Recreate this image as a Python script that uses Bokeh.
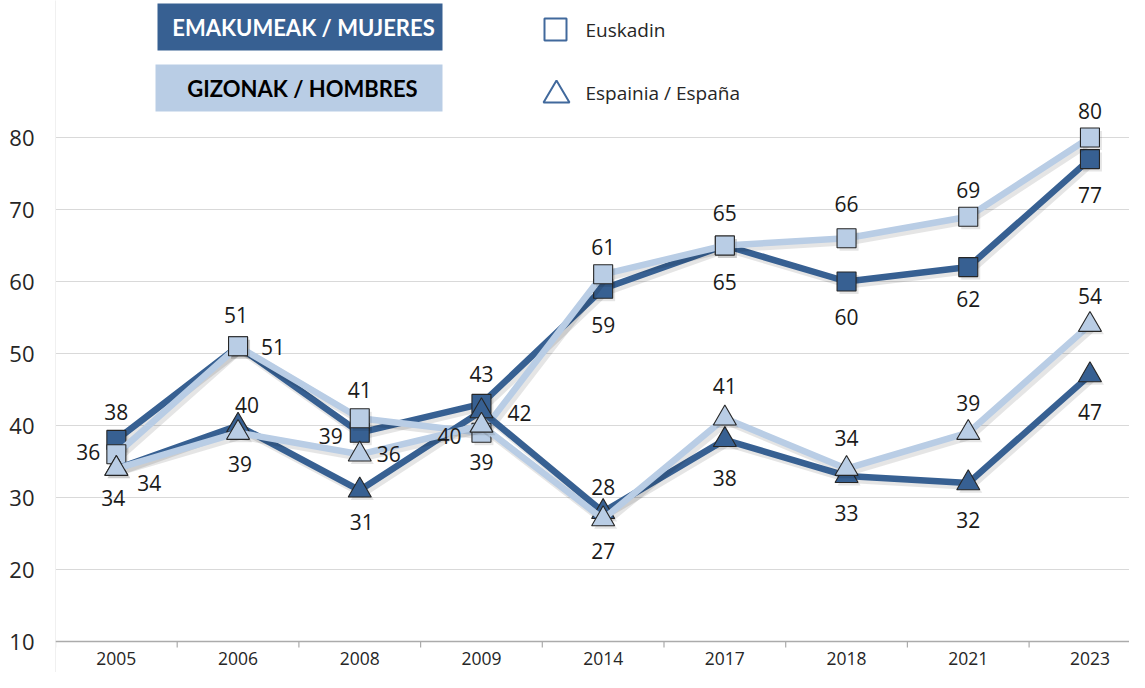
from bokeh.plotting import figure
from bokeh.models import (Range1d, FixedTicker, Span, BoxAnnotation, PolyAnnotation,
                          Label, ColumnDataSource)
from bokeh.core.properties import value
from bokeh.embed import file_html
from bokeh.resources import INLINE
import math

# ---------------- data ----------------
years = ["2005", "2006", "2008", "2009", "2014", "2017", "2018", "2021", "2023"]
euskadi_women = [38, 51, 39, 43, 59, 65, 60, 62, 77]
euskadi_men = [36, 51, 41, 39, 61, 65, 66, 69, 80]
spain_women = [34, 40, 31, 42, 28, 38, 33, 32, 47]
spain_men = [34, 39, 36, 40, 27, 41, 34, 39, 54]
y_ticks = [10, 20, 30, 40, 50, 60, 70, 80]

# label offsets in pixels (dx, dy) for each point
off_ew = [(0, -28), (35, 1), (-29, 3), (0, -30), (0, 36), (0, 36), (0, 35), (0, 32), (0, 36)]
off_em = [(-28, -2), (-2, -31), (0, -28), (0, 29), (0, -27), (0, -33), (0, -34), (0, -27), (0, -27)]
off_sw = [(-3, 29), (9, -21), (2, 32), (38, 2), (0, -25), (0, 38), (0, 37), (0, 37), (0, 37)]
off_sm = [(33, 14), (2, 31), (29, 0), (-32, 10), (0, 32), (0, -32), (0, -31), (0, -30), (0, -29)]

# ---------------- layout ----------------
W, H = 1129, 672
LEFT = 55
PX_X = 121.7          # px per category
AXIS_Y_PX = 641       # pixel row (from top) of the value-10 axis
TOP80_PX = 137        # pixel row of value 80
PX_Y = (AXIS_Y_PX - TOP80_PX) / 70.0
DARK = "#376092"
LIGHT = "#B9CDE5"
TXT = "#262626"
FONT = "Open Sans"
LEG_FONT = "Lato"

idx = list(range(len(years)))
y0 = y_ticks[0]

p = figure(width=W, height=H, output_backend="svg", toolbar_location=None,
           x_range=Range1d(-0.5, -0.5 + (W - LEFT) / PX_X),
           y_range=Range1d(y0 - (H - AXIS_Y_PX) / PX_Y, y0 + AXIS_Y_PX / PX_Y),
           x_axis_location=None, min_border_left=LEFT, min_border_right=0,
           min_border_top=0, min_border_bottom=0)
p.outline_line_color = None
p.background_fill_color = "white"
p.border_fill_color = "white"
p.xgrid.visible = False
p.ygrid.ticker = FixedTicker(ticks=y_ticks)
p.ygrid.grid_line_color = "#D9D9D9"
p.ygrid.grid_line_width = 1

ya = p.yaxis[0]
ya.ticker = FixedTicker(ticks=y_ticks)
ya.axis_line_color = "#F0F0F0"
ya.major_tick_line_color = None
ya.minor_tick_line_color = None
ya.major_tick_out = 0
ya.major_tick_in = 0
ya.major_label_standoff = 21
ya.major_label_text_font = FONT
ya.major_label_text_font_size = "22px"
ya.major_label_text_color = TXT

# x axis line and category boundary ticks
p.add_layout(Span(location=y0, dimension="width", line_color="#ABABAB", line_width=1.5))
bounds = [i - 0.5 for i in range(len(years) + 1)]
p.ray(x=bounds, y=[y0] * len(bounds), length=6, length_units="screen",
      angle=-math.pi / 2, line_color="#ABABAB", line_width=1.2)
p.text(x=idx, y=[y0] * len(idx), text=years, x_offset=0, y_offset=17,
       text_font=value(FONT), text_font_size="17.5px", text_color=TXT,
       text_align="center", text_baseline="middle")

series = [
    (euskadi_women, DARK, "square", 19, off_ew),
    (euskadi_men, LIGHT, "square", 19, off_em),
    (spain_women, DARK, "triangle", 23, off_sw),
    (spain_men, LIGHT, "triangle", 23, off_sm),
]
SH_DX = 2.5 / PX_X
SH_DY = -3.0 / PX_Y
label_sources = []
for vals, col, mk, sz, offs in series:
    src = ColumnDataSource(dict(x=idx, y=vals, t=[str(v) for v in vals],
                                dx=[o[0] for o in offs], dy=[o[1] for o in offs],
                                xs=[i + SH_DX for i in idx], ys=[v + SH_DY for v in vals]))
    # soft shadow like the original's line effect
    p.line("xs", "ys", source=src, line_color="#000000", line_alpha=0.1,
           line_width=8, line_join="round")
    p.line("x", "y", source=src, line_color=col, line_width=6.5, line_join="round")
    p.scatter("xs", "ys", source=src, marker=mk, size=sz, fill_color="#000000",
              fill_alpha=0.1, line_color=None)
    p.scatter("x", "y", source=src, marker=mk, size=sz, fill_color=col,
              line_color="#262626", line_width=1.1)
    label_sources.append(src)

for src in label_sources:
    p.text("x", "y", text="t", source=src, x_offset="dx", y_offset="dy",
           text_font=value(FONT), text_font_size="21px", text_color="#1A1A1A",
           text_align="center", text_baseline="middle")

# ---------------- legend (screen units, frame-relative) ----------------
def sx(rx):
    return rx - LEFT

def sy(ry):
    return H - ry

def box(l, r, t, b, **kw):
    return BoxAnnotation(left=sx(l), right=sx(r), top=sy(t), bottom=sy(b),
                         left_units="screen", right_units="screen",
                         top_units="screen", bottom_units="screen", **kw)

p.add_layout(box(157, 442, 3, 50, fill_color=DARK, fill_alpha=1, line_color=None))
p.add_layout(box(155, 442, 64, 111, fill_color=LIGHT, fill_alpha=1, line_color=None))
p.add_layout(Label(x=sx(303), y=sy(27), x_units="screen", y_units="screen",
                   text="EMAKUMEAK / MUJERES", text_font=LEG_FONT,
                   text_font_style="bold", text_font_size="22px", text_color="white",
                   text_align="center", text_baseline="middle"))
p.add_layout(Label(x=sx(302), y=sy(88), x_units="screen", y_units="screen",
                   text="GIZONAK / HOMBRES", text_font=LEG_FONT,
                   text_font_style="bold", text_font_size="22px", text_color="black",
                   text_align="center", text_baseline="middle"))
p.add_layout(box(544, 566, 18, 40, fill_color="white", fill_alpha=1,
                 line_color="#41699C", line_alpha=1, line_width=2))
p.add_layout(PolyAnnotation(xs=[sx(543), sx(569), sx(556)], ys=[sy(102), sy(102), sy(80)],
                            xs_units="screen", ys_units="screen",
                            fill_color="white", fill_alpha=1, line_color="#41699C",
                            line_alpha=1, line_width=2))
p.add_layout(Label(x=sx(585), y=sy(29), x_units="screen", y_units="screen",
                   text="Euskadin", text_font=FONT, text_font_size="19px",
                   text_color=TXT, text_align="left", text_baseline="middle"))
p.add_layout(Label(x=sx(585), y=sy(92), x_units="screen", y_units="screen",
                   text="Espainia / España", text_font=FONT, text_font_size="19px",
                   text_color=TXT, text_align="left", text_baseline="middle"))

open("out.html", "w").write(file_html(p, INLINE))
